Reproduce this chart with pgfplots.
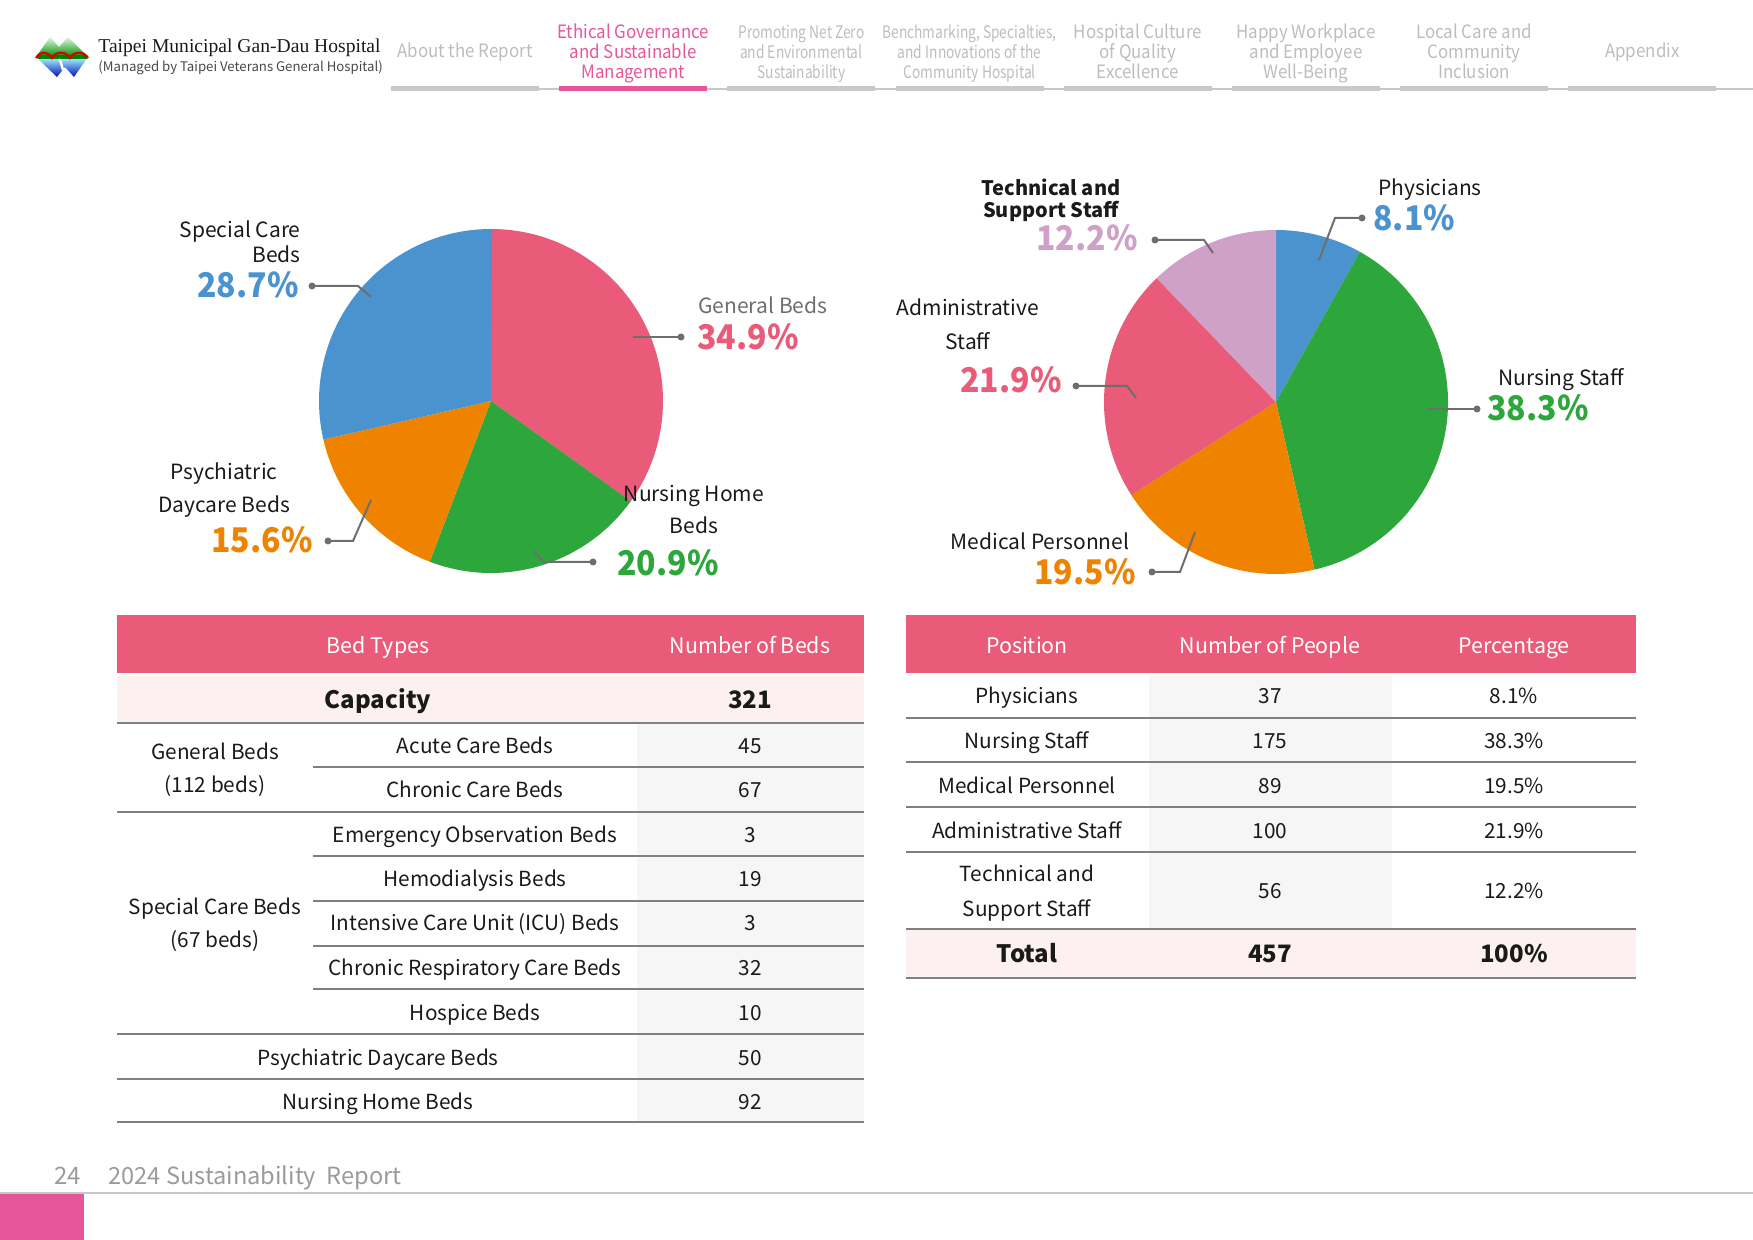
\documentclass[border=0pt]{standalone}
\usepackage{pgfplots}
\pgfplotsset{compat=1.18}
\usepackage{fontspec}
\setmainfont{Noto Sans CJK TC}
\newfontfamily\namefont{Liberation Serif}
\newfontfamily\navfont{Noto Sans CJK TC}[FakeStretch=0.92]
\newfontfamily\navcond{Noto Sans CJK TC}[FakeStretch=0.80]
\newfontfamily\pctfont{Noto Sans CJK TC}[FakeStretch=0.94]

\definecolor{pkA}{HTML}{E95B78}
\definecolor{blA}{HTML}{4A93CF}
\definecolor{grA}{HTML}{2DA73B}
\definecolor{orA}{HTML}{EF8300}
\definecolor{liA}{HTML}{CFA0C8}
\definecolor{navgray}{HTML}{BDBDBD}
\definecolor{navbar}{HTML}{C8C8C8}
\definecolor{navpink}{HTML}{E8569A}
\definecolor{rowpink}{HTML}{FCF0F0}
\definecolor{colgray}{HTML}{F6F6F6}
\definecolor{rulegray}{HTML}{808080}
\definecolor{labgray}{HTML}{6E6E6E}
\definecolor{txt}{HTML}{1A1A1A}
\definecolor{foot}{HTML}{9A9A9A}

\newcommand\fs[2]{\fontsize{#1}{#2}\selectfont}

% pie slices, clockwise from 12 o'clock; list of percent/colour pairs
\newcommand\pieslices[1]{%
  \xdef\pieangle{90}%
  \foreach \v/\c in {#1} {%
    \pgfmathsetmacro\pieend{\pieangle-3.6*\v}%
    \edef\temp{\noexpand\fill[\c] (axis cs:0,0) -- ++(\pieangle:86pt)
      arc[start angle=\pieangle, end angle=\pieend, radius=86pt] -- cycle;}%
    \temp
    \xdef\pieangle{\pieend}%
  }%
}

\tikzset{
  tx/.style={inner sep=0pt, text height=7.5pt, text depth=1pt},
  lbl/.style={tx, yshift=-1.2pt, text=txt, font=\fs{10.5}{12}},
  pct/.style={inner sep=0pt, font=\pctfont\bfseries\fs{17}{18}},
  lead/.style={draw=labgray, line width=1pt},
  dot/.style={fill=labgray},
  cell/.style={tx, yshift=-1.1pt, text=txt, font=\fs{10.4}{12}},
  hcell/.style={tx, yshift=-1.3pt, text=white, font=\fs{10.7}{12}},
  bcell/.style={tx, yshift=-1.2pt, text=txt, font=\bfseries\fs{12}{13}},
  thick rule/.style={draw=rulegray, line width=1pt},
  thin rule/.style={draw=rulegray, line width=0.6pt},
  nav/.style={tx, yshift=-0.7pt, text=navgray, font=\navfont\fs{9.2}{10}},
}
% three-line navigation entry: x, style, lines
\newcommand\navitem[5]{%
  \node[nav,#2] at (#1,31) {#3};
  \node[nav,#2] at (#1,51) {#4};
  \node[nav,#2] at (#1,71) {#5};
}

\begin{document}
\begin{tikzpicture}[x=0.5pt, y=-0.5pt]
\useasboundingbox (0,0) rectangle (1753,1240);

% ---------- header ----------
% logo: two twin diamonds, green hills over blue water
\begin{scope}
  \clip (36,57) -- (50,37) -- (59,47) -- (68,37) -- (88,57) -- (74,77)
        -- (65,67) -- (57,77) -- cycle;
  \shade[top color=green!8, bottom color=green!55!black] (30,36) rectangle (92,57);
  \shade[top color=cyan!35, bottom color=blue!70!black] (30,57) rectangle (92,78);
  \fill[green!50!black] (30,55) rectangle (92,59);
  \draw[white, line width=1.2pt] (59,59) .. controls (63,63) and (60,68) .. (66,74);
\end{scope}
\draw[red!85!black, line width=1.1pt]
  (36,58) .. controls (40,51) and (48,51) .. (52,58)
  .. controls (56,51) and (66,51) .. (70,58)
  .. controls (74,51) and (84,51) .. (88,58);
\node[anchor=west, inner sep=0pt, text=txt, font=\namefont\fs{9.8}{10}] at (98,48) {Taipei Municipal Gan-Dau Hospital};
\node[anchor=west, inner sep=0pt, text=txt!80, font=\fs{6.6}{8}] at (98,68) {(Managed by Taipei Veterans General Hospital)};

% navigation
\draw[navbar, line width=1pt] (391,89) -- (1753,89);
\foreach \i in {0,...,7} {
  \pgfmathsetmacro\bx{391+168.2*\i}
  \fill[navbar] (\bx,86.5) rectangle ++(148,5);
}
\fill[navpink] (559.2,86.5) rectangle ++(148,5);
\node[nav] at (465,50) {About the Report};
\navitem{633.2}{text=navpink}{Ethical Governance}{and Sustainable}{Management}
\navitem{801.4}{font=\navcond\fs{8.6}{10}}{Promoting Net Zero}{and Environmental}{Sustainability}
\navitem{969.6}{font=\navcond\fs{8.6}{10}}{Benchmarking, Specialties,}{and Innovations of the}{Community Hospital}
\navitem{1137.8}{}{Hospital Culture}{of Quality}{Excellence}
\navitem{1306}{}{Happy Workplace}{and Employee}{Well-Being}
\navitem{1474.2}{}{Local Care and}{Community}{Inclusion}
\node[nav] at (1642.4,50) {Appendix};

% ---------- bed pie ----------
\begin{axis}[at={(245.5pt,-200.5pt)}, anchor=center, scale only axis,
  width=172pt, height=172pt, xmin=-1, xmax=1, ymin=-1, ymax=1,
  hide axis, clip=false]
  \pieslices{34.9/pkA, 20.9/grA, 15.6/orA, 28.7/blA}
\end{axis}

\node[lbl, anchor=east] at (301,229) {Special Care};
\node[lbl, anchor=east] at (301,254) {Beds};
\node[pct, anchor=east, text=blA] at (299,285) {28.7\%};
\draw[lead] (312,286) -- (358,286) -- (371,297);
\fill[dot] (312,286) circle (3.5);

\node[lbl, anchor=west, text=labgray] at (698,305) {General Beds};
\node[pct, anchor=west, text=pkA] at (697,337) {34.9\%};
\draw[lead] (633,337) -- (681,337);
\fill[dot] (681,337) circle (3.5);

\node[lbl] at (694,493) {Nursing Home};
\node[lbl] at (694,525) {Beds};
\node[pct, anchor=west, text=grA] at (617,563) {20.9\%};
\draw[lead] (534,551) -- (544,562) -- (593,562);
\fill[dot] (593,562) circle (3.5);

\node[lbl] at (224,471) {Psychiatric};
\node[lbl] at (224,504) {Daycare Beds};
\node[pct, anchor=east, text=orA] at (313,540) {15.6\%};
\draw[lead] (328,541) -- (353,541) -- (371,500);
\fill[dot] (328,541) circle (3.5);

% ---------- staff pie ----------
\begin{axis}[at={(638pt,-201pt)}, anchor=center, scale only axis,
  width=172pt, height=172pt, xmin=-1, xmax=1, ymin=-1, ymax=1,
  hide axis, clip=false]
  \pieslices{8.1/blA, 38.3/grA, 19.5/orA, 21.9/pkA, 12.2/liA}
\end{axis}

\node[lbl, font=\bfseries\fs{10}{11}] at (1051,187) {Technical and};
\node[lbl, font=\bfseries\fs{10}{11}] at (1051,209) {Support Staff};
\node[pct, anchor=east, text=liA] at (1138,238) {12.2\%};
\draw[lead] (1155,240) -- (1204,240) -- (1213,253);
\fill[dot] (1155,240) circle (3.5);

\node[lbl] at (1430,187) {Physicians};
\node[pct, anchor=west, text=blA] at (1373,218) {8.1\%};
\draw[lead] (1362,218) -- (1335,218) -- (1319,260);
\fill[dot] (1362,218) circle (3.5);

\node[lbl] at (968,307) {Administrative};
\node[lbl] at (968,341) {Staff};
\node[pct, anchor=east, text=pkA] at (1062,380) {21.9\%};
\draw[lead] (1076,386) -- (1127,386) -- (1136,398);
\fill[dot] (1076,386) circle (3.5);

\node[lbl] at (1561,377) {Nursing Staff};
\node[pct, anchor=west, text=grA] at (1487,408) {38.3\%};
\draw[lead] (1427,409) -- (1477,409);
\fill[dot] (1477,409) circle (3.5);

\node[lbl] at (1040,541) {Medical Personnel};
\node[pct, anchor=east, text=orA] at (1136,572) {19.5\%};
\draw[lead] (1152,572) -- (1180,572) -- (1195,532);
\fill[dot] (1152,572) circle (3.5);

% ---------- bed table ----------
\fill[pkA] (117,615) rectangle (864,673);
\node[hcell] at (378,644) {Bed Types};
\node[hcell] at (750,644) {Number of Beds};
\fill[rowpink] (117,676) rectangle (864,723);
\node[bcell] at (378,700) {Capacity};
\node[bcell] at (750,700) {321};
\fill[colgray] (637,723) rectangle (864,1122);

\draw[thin rule] (117,723) -- (864,723);
\draw[thick rule] (313,767) -- (864,767);
\draw[thick rule] (117,812) -- (864,812);
\draw[thin rule] (313,856) -- (864,856);
\draw[thick rule] (313,901) -- (864,901);
\draw[thin rule] (313,946) -- (864,946);
\draw[thick rule] (313,989) -- (864,989);
\draw[thin rule] (117,1034) -- (864,1034);
\draw[thick rule] (117,1079) -- (864,1079);
\draw[thick rule] (117,1122) -- (864,1122);

\node[cell] at (215,751) {General Beds};
\node[cell] at (215,784) {(112 beds)};
\node[cell] at (215,906) {Special Care Beds};
\node[cell] at (215,939) {(67 beds)};

\node[cell] at (475,745) {Acute Care Beds};            \node[cell] at (750,745) {45};
\node[cell] at (475,789) {Chronic Care Beds};          \node[cell] at (750,789) {67};
\node[cell] at (475,834) {Emergency Observation Beds}; \node[cell] at (750,834) {3};
\node[cell] at (475,878) {Hemodialysis Beds};          \node[cell] at (750,878) {19};
\node[cell] at (475,922) {Intensive Care Unit (ICU) Beds}; \node[cell] at (750,922) {3};
\node[cell] at (475,967) {Chronic Respiratory Care Beds};  \node[cell] at (750,967) {32};
\node[cell] at (475,1012) {Hospice Beds};              \node[cell] at (750,1012) {10};
\node[cell] at (378,1057) {Psychiatric Daycare Beds};  \node[cell] at (750,1057) {50};
\node[cell] at (378,1101) {Nursing Home Beds};         \node[cell] at (750,1101) {92};

% ---------- staff table ----------
\fill[pkA] (906,615) rectangle (1636,673);
\node[hcell] at (1027,644) {Position};
\node[hcell] at (1270,644) {Number of People};
\node[hcell] at (1514,644) {Percentage};
\fill[colgray] (1149,676) rectangle (1392,929);
\fill[rowpink] (906,929) rectangle (1636,978);

\draw[thick rule] (906,718) -- (1636,718);
\draw[thin rule] (906,762) -- (1636,762);
\draw[thick rule] (906,807) -- (1636,807);
\draw[thin rule] (906,852) -- (1636,852);
\draw[thin rule] (906,929) -- (1636,929);
\draw[thick rule] (906,978) -- (1636,978);

\node[cell] at (1027,695) {Physicians};          \node[cell] at (1270,695) {37};  \node[cell] at (1514,695) {8.1\%};
\node[cell] at (1027,740) {Nursing Staff};       \node[cell] at (1270,740) {175}; \node[cell] at (1514,740) {38.3\%};
\node[cell] at (1027,785) {Medical Personnel};   \node[cell] at (1270,785) {89};  \node[cell] at (1514,785) {19.5\%};
\node[cell] at (1027,830) {Administrative Staff};\node[cell] at (1270,830) {100}; \node[cell] at (1514,830) {21.9\%};
\node[cell] at (1027,873) {Technical and};
\node[cell] at (1027,908) {Support Staff};       \node[cell] at (1270,890) {56};  \node[cell] at (1514,890) {12.2\%};
\node[bcell] at (1027,954) {Total};
\node[bcell] at (1270,954) {457};
\node[bcell] at (1514,954) {100\%};

% ---------- footer ----------
\node[anchor=west, tx, text=foot, font=\fs{12}{13}] at (54,1178) {24};
\node[anchor=west, tx, text=foot, font=\fs{11.8}{13}] at (108,1178) {2024 Sustainability\ \ Report};
\draw[navbar, line width=1pt] (0,1193) -- (1753,1193);
\fill[navpink] (0,1194) rectangle (84,1240);
\end{tikzpicture}
\end{document}
